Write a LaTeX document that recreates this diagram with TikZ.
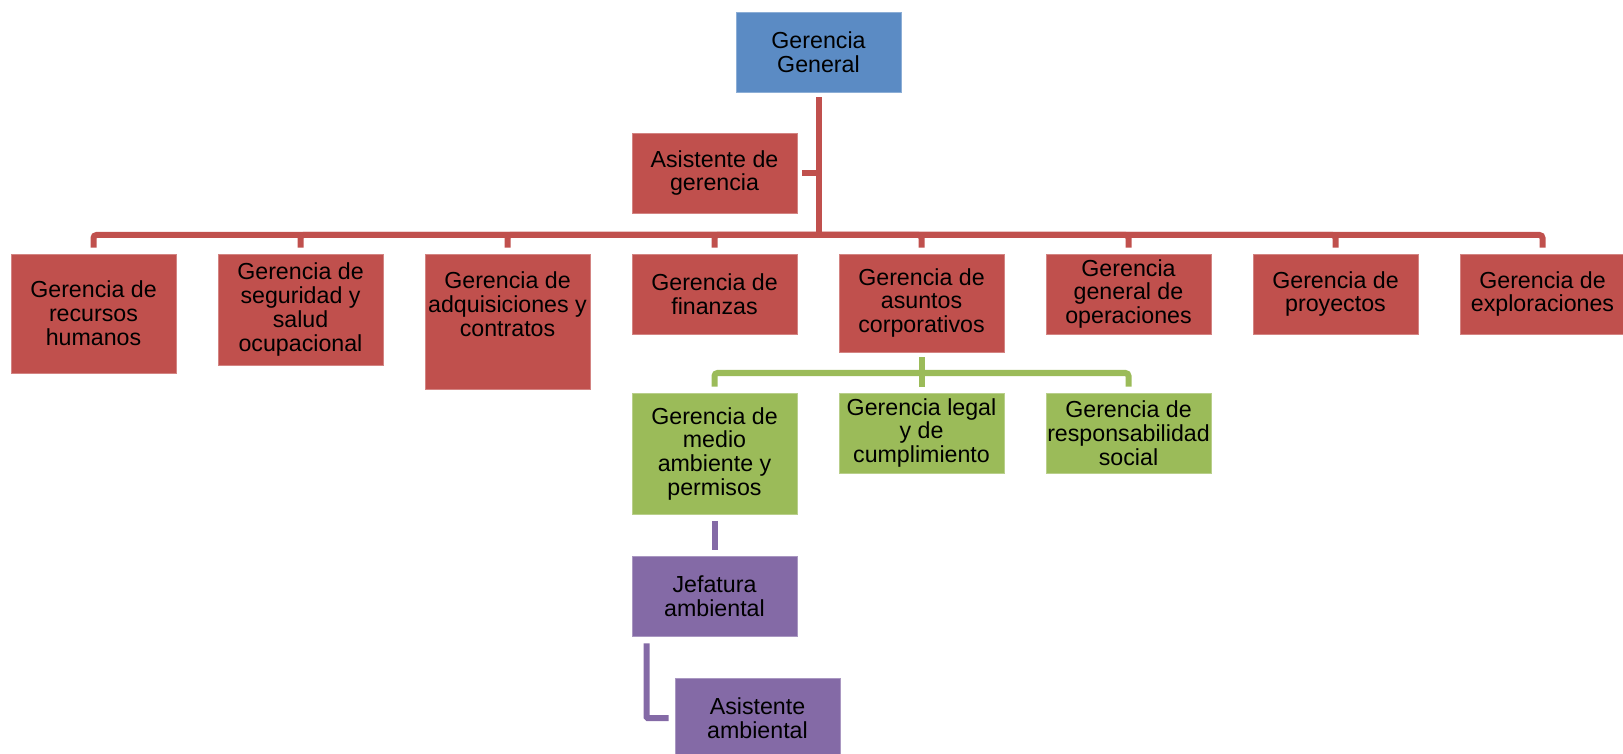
\documentclass[tikz,border=0pt]{standalone}
\usepackage{fontspec}
\setmainfont{Liberation Sans}
\definecolor{cblue}{RGB}{91,139,196}
\definecolor{cred}{RGB}{192,80,77}
\definecolor{cgreen}{RGB}{155,187,89}
\definecolor{cpurple}{RGB}{132,106,166}
\begin{document}
\begin{tikzpicture}[x=0.5pt,y=-0.5pt,
  orgbox/.style={rectangle, inner sep=0pt, minimum width=82.5pt, align=center,
    font=\fontsize{11.6}{11.9}\selectfont, text=black,
    fill=#1, draw=#1!70!white, line width=0.4pt},
  ht/.style={minimum height={#1*0.5pt}},
  plaintext/.style={inner sep=0pt, align=center, font=\fontsize{11.6}{11.9}\selectfont, text=black},
  conn/.style={draw=#1, line width=3pt, rounded corners=1.5pt}]
\useasboundingbox (0,0) rectangle (1623,754);
\clip (0,0) rectangle (1623,754);

% top level
\node[orgbox=cblue, ht=80] (gg) at (818.5,52) {Gerencia\\General};
\node[orgbox=cred, ht=80] (asis) at (714.5,173) {Asistente de\\gerencia};

% second level
\node[orgbox=cred, ht=119] (b1) at (93.5,313.5) {Gerencia de\\recursos\\humanos};
\node[orgbox=cred, ht=111] (b2) at (300.5,309.5) {Gerencia de\\seguridad y\\salud\\ocupacional};
\node[orgbox=cred, ht=135] (b3) at (507.5,321.5) {};
\node[plaintext] (b3text) at ([yshift=8.75pt]b3.center) {Gerencia de\\adquisiciones y\\contratos};
\node[orgbox=cred, ht=80] (b4) at (714.5,294) {Gerencia de\\finanzas};
\node[orgbox=cred, ht=98] (b5) at (921.5,303) {Gerencia de\\asuntos\\corporativos};
\node[orgbox=cred, ht=80] (b6) at (1128.5,294) {Gerencia\\general de\\operaciones};
\node[orgbox=cred, ht=80] (b7) at (1335.5,294) {Gerencia de\\proyectos};
\node[orgbox=cred, ht=80] (b8) at (1542.5,294) {Gerencia de\\exploraciones};

% third level
\node[orgbox=cgreen, ht=121.5] (g1) at (714.5,453.75) {Gerencia de\\medio\\ambiente y\\permisos};
\node[orgbox=cgreen, ht=80] (g2) at (921.5,433) {Gerencia legal\\y de\\cumplimiento};
\node[orgbox=cgreen, ht=80] (g3) at (1128.5,433) {Gerencia de\\responsabilidad\\social};

% environmental branch
\node[orgbox=cpurple, ht=80] (jef) at (714.5,596) {Jefatura\\ambiental};
\node[orgbox=cpurple, ht=80] (asam) at (757.5,718) {Asistente\\ambiental};

% red connectors
\coordinate (bus) at (818.5,235);
\draw[conn=cred] ([yshift=-2.5pt]gg.south) -- (bus);
\draw[conn=cred] ([xshift=2.5pt]asis.east) -- (asis.east -| bus);
\foreach \b in {b1,b2,b3,b4,b5,b6,b7,b8}
  \draw[conn=cred] (bus) -| ([yshift=3pt]\b.north);

% green connectors
\coordinate (gbus) at (921.5,373);
\draw[conn=cgreen] ([yshift=-2.5pt]b5.south) -- (gbus);
\foreach \g in {g1,g2,g3}
  \draw[conn=cgreen] (gbus) -| ([yshift=3pt]\g.north);

% purple connectors
\draw[conn=cpurple] ([yshift=-3pt]g1.south) -- ([yshift=3pt]jef.north);
\draw[conn=cpurple, rounded corners=0.5pt] ([xshift=7.5pt,yshift=-3.5pt]jef.south west) |- ([xshift=-3pt]asam.west);
\end{tikzpicture}
\end{document}
